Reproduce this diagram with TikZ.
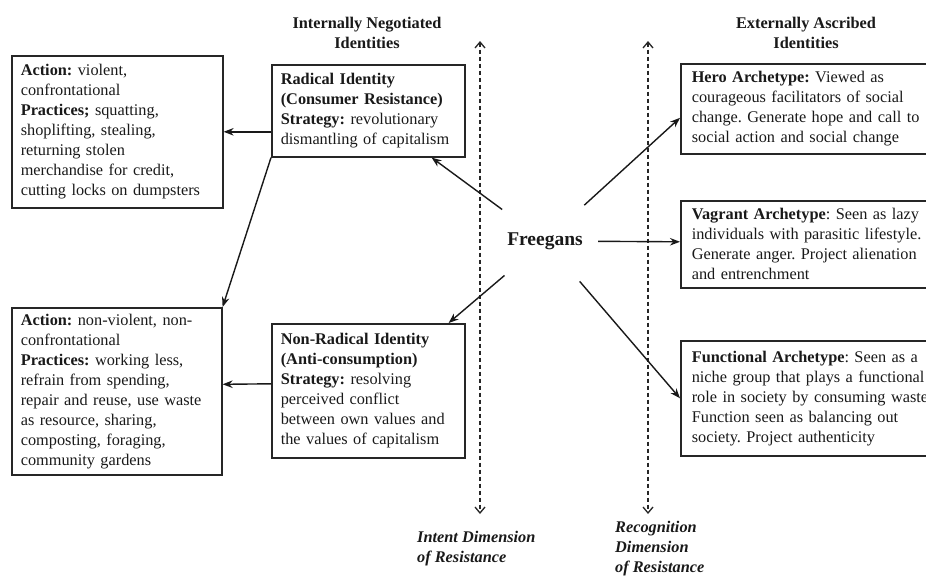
\documentclass[tikz,border=0pt]{standalone}
\usepackage{fontspec}
\setmainfont{Liberation Serif}
\usetikzlibrary{arrows.meta}
\frenchspacing
\newcommand\boxfont{\fontsize{16.3}{20}\selectfont}
\begin{document}
\begin{tikzpicture}[x=1pt,y=-1pt,
  infobox/.style={draw=black!85, line width=1.6pt, anchor=north west, align=left,
    inner xsep=9pt, inner ysep=4pt, font=\boxfont, text=black!90},
  arr/.style={line width=1.4pt, draw=black!90, -{Stealth[length=10pt,width=7.5pt]}},
  dimaxis/.style={line width=1.3pt, draw=black!85, dash pattern=on 4pt off 3pt,
    {Straight Barb[length=6pt,width=10pt]}-{Straight Barb[length=6pt,width=10pt]}},
  heading/.style={font=\bfseries\boxfont, align=center, text=black!90},
  dimlabel/.style={font=\bfseries\itshape\boxfont, align=left, anchor=west,
    inner sep=0pt, text=black!90}]
\clip (0,0) rectangle (926,576);

% column headings
\node[heading] (inthead) at (367,33) {Internally Negotiated\\Identities};
\node[heading] (exthead) at (806,33) {Externally Ascribed\\Identities};

% the two dimension axes
\coordinate (intent-top) at (480,41);
\coordinate (intent-bot) at (480,514);
\coordinate (recog-top) at (648,41);
\coordinate (recog-bot) at (648,514);
\draw[dimaxis] (intent-top) -- (intent-bot);
\draw[dimaxis] (recog-top) -- (recog-bot);
\node[dimlabel] (intentlbl) at (417,549) {Intent Dimension\\of Resistance};
\node[dimlabel] (recoglbl) at (615,549) {Recognition\\Dimension\\of Resistance};

% centre
\node[circle, minimum size=106pt, inner sep=0pt, text=black!90,
  font=\bfseries\fontsize{19.5}{22}\selectfont] (fr) at (545,241) {Freegans};

% internally negotiated identities
\node[infobox, text width=175pt, minimum width=193pt, minimum height=92pt] (rad) at (271,64)
  {\textbf{Radical Identity}\\
   \textbf{(Consumer Resistance)}\\
   \textbf{Strategy:} revolutionary\\
   dismantling of capitalism};
\node[infobox, text width=175pt, minimum width=193pt, minimum height=134pt] (nonrad) at (271,323)
  {\textbf{Non-Radical Identity}\\
   \textbf{(Anti-consumption)}\\
   \textbf{Strategy:} resolving\\
   perceived conflict\\
   between own values and\\
   the values of capitalism};

% actions and practices
\node[infobox, text width=193pt, minimum width=211pt, minimum height=152pt] (viol) at (11,55)
  {\textbf{Action:} violent,\\
   confrontational\\
   \textbf{Practices;} squatting,\\
   shoplifting, stealing,\\
   returning stolen\\
   merchandise for credit,\\
   cutting locks on dumpsters};
\node[infobox, text width=192pt, minimum width=210pt, minimum height=167pt] (nonviol) at (11,307)
  {\textbf{Action:} non-violent, non-\\
   confrontational\\
   \textbf{Practices:} working less,\\
   refrain from spending,\\
   repair and reuse, use waste\\
   as resource, sharing,\\
   composting, foraging,\\
   community gardens};

% externally ascribed identities
\node[infobox, inner xsep=11pt, text width=258pt, minimum width=280pt, minimum height=90pt] (hero) at (680,63)
  {\textbf{Hero Archetype:} Viewed as\\
   courageous facilitators of social\\
   change. Generate hope and call to\\
   social action and social change};
\node[infobox, inner xsep=11pt, text width=258pt, minimum width=280pt, minimum height=87pt] (vagr) at (680,200)
  {\textbf{Vagrant Archetype}: Seen as lazy\\
   individuals with parasitic lifestyle.\\
   Generate anger. Project alienation\\
   and entrenchment};
\node[infobox, inner xsep=11pt, text width=258pt, minimum width=280pt, minimum height=115pt] (func) at (680,340)
  {\textbf{Functional Archetype}: Seen as a\\
   niche group that plays a functional\\
   role in society by consuming waste.\\
   Function seen as balancing out\\
   society. Project authenticity};

% connectors
\draw[arr] (fr) -- ([xshift=-34pt]rad.south east);
\draw[arr] (fr) -- ([xshift=-17pt]nonrad.north east);
\draw[arr] (fr) -- ([yshift=-9pt]hero.west);
\draw[arr] (fr) -- ([yshift=2.5pt]vagr.west);
\draw[arr] (fr) -- (func.west);
\draw[arr] (rad.west |- viol.east) -- (viol.east);
\draw[arr] (rad.south west) -- (nonviol.north east);
\draw[arr] ([yshift=7pt]nonrad.west) -- ([yshift=7pt]nonviol.east);
\end{tikzpicture}
\end{document}
